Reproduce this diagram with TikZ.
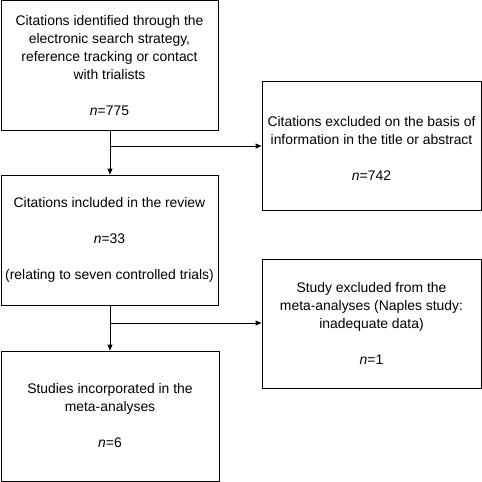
\documentclass[tikz,border=0pt]{standalone}
\usepackage{fontspec}
\setmainfont{Liberation Sans}
\usetikzlibrary{arrows.meta}
\tikzset{
  box/.style={draw, line width=0.9pt, inner sep=0pt, align=center,
    font=\fontsize{13.9}{18}\selectfont},
  flow/.style={line width=0.9pt, -{Triangle[length=6pt,width=5pt]}},
  link/.style={line width=0.9pt}
}
\begin{document}
\begin{tikzpicture}[x=1pt,y=-1pt]
\useasboundingbox (0,0) rectangle (482,482);
\node[box, minimum width=217pt, minimum height=129.5pt] (b1) at (109.5,65.2)
  {Citations identified through the\\electronic search strategy,\\reference tracking or contact\\with trialists\\[18pt]\textit{n}=775};
\node[box, minimum width=219pt, minimum height=129pt] (b2) at (371.5,145.5)
  {\rule{0pt}{16pt}Citations excluded on the basis of\\information in the title or abstract\\[18pt]\textit{n}=742};
\node[box, minimum width=217pt, minimum height=130pt] (b3) at (109.5,240)
  {Citations included in the review\\[18pt]\textit{n}=33\\[18pt](relating to seven controlled trials)};
\node[box, minimum width=219pt, minimum height=129pt] (b4) at (371.5,323.5)
  {Study excluded from the\\meta-analyses (Naples study:\\inadequate data)\\[18pt]\textit{n}=1};
\node[box, minimum width=218pt, minimum height=130pt] (b5) at (110,416)
  {Studies incorporated in the\\meta-analyses\\[18pt]\textit{n}=6};
\coordinate (j1) at (110,146);
\coordinate (j2) at (110,323);
\draw[flow] (b1.south -| j1) -- (b3.north -| j1);
\draw[flow] (j1) -- (j1 -| b2.west);
\draw[flow] (b3.south -| j2) -- (b5.north -| j2);
\draw[flow] (j2) -- (j2 -| b4.west);
\end{tikzpicture}
\end{document}
